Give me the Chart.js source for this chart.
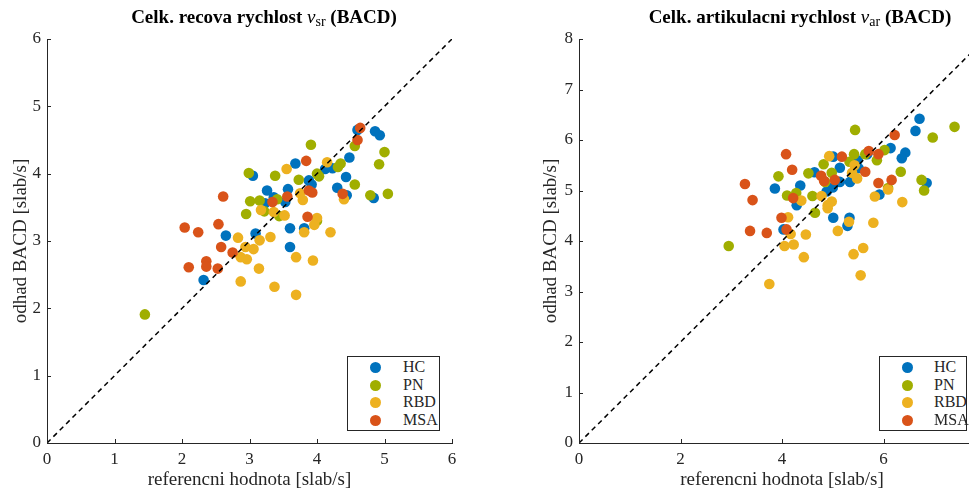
<!DOCTYPE html>
<html>
<head>
<meta charset="utf-8">
<script src="https://cdn.jsdelivr.net/npm/chart.js@4"></script>
<style>
  body { margin: 0; width: 969px; height: 488px; overflow: hidden; position: relative; background: #fff; font-family: "Liberation Serif", serif; color: #000; }
  .box { position: absolute; top: 0; height: 488px; }
  .title { position: absolute; top: 6px; font-weight: bold; font-size: 19px; white-space: nowrap; transform: translateX(-50%); }
  .title i { font-weight: normal; }
  .title sub { font-weight: normal; font-size: 14px; vertical-align: -3px; }
  .legend { position: absolute; border: 1px solid #262626; background: #fff; font-size: 16px; color: #262626; box-sizing: border-box; }
  .legend div { position: relative; height: 17.6px; line-height: 17.6px; }
  .legend span.dot { position: absolute; width: 11px; height: 11px; border-radius: 50%; top: 4px; }
  .legend span.lbl { position: absolute; }
</style>
</head>
<body>
<div class="box" style="left:0;width:470px"><canvas id="c1" width="470" height="488"></canvas></div>
<div class="box" style="left:500px;width:500px"><canvas id="c2" width="500" height="488"></canvas></div>
<div class="title" style="left:264px">Celk. recova rychlost <i>v</i><sub>sr</sub> (BACD)</div>
<div class="title" style="left:800px">Celk. artikulacni rychlost <i>v</i><sub>ar</sub> (BACD)</div>
<div class="legend" id="lg1" style="left:347px;top:356px;width:93px;height:75px"></div>
<div class="legend" id="lg2" style="left:879px;top:356px;width:88px;height:75px"></div>
<script>
const groups = ['HC', 'PN', 'RBD', 'MSA'];
const colors = ['#0072BD', '#A0AE00', '#EDB120', '#D95319'];

// celkova recova rychlost: [referencni, odhad]
const srHC = [[3.05,3.97],[3.26,3.75],[3.36,3.65],[3.23,3.56],[3.53,3.58],[3.57,3.77],[3.68,4.15],[3.88,3.90],[3.92,3.84],[4.12,4.07],[4.23,4.08],[4.48,4.24],[4.43,3.95],[4.30,3.79],[4.44,3.68],[4.60,4.65],[4.86,4.63],[4.93,4.57],[4.84,3.64],[3.60,3.19],[3.81,3.19],[3.60,2.91],[3.09,3.11],[2.65,3.08],[2.32,2.42]];
const srPN = [[2.99,4.01],[3.38,3.97],[3.91,4.43],[3.73,3.91],[4.00,4.00],[4.03,3.96],[4.31,4.10],[4.35,4.15],[4.56,4.41],[5.00,4.32],[4.92,4.14],[4.56,3.84],[4.79,3.68],[5.05,3.70],[3.01,3.59],[3.15,3.60],[3.22,3.44],[3.41,3.62],[3.44,3.37],[2.95,3.40],[4.00,3.30],[1.45,1.91]];
const srRBD = [[3.55,4.07],[4.15,4.17],[3.75,3.71],[3.79,3.61],[3.17,3.46],[3.36,3.43],[3.52,3.38],[4.00,3.34],[3.96,3.24],[4.20,3.13],[3.81,3.13],[4.40,3.62],[2.83,3.05],[2.94,2.91],[3.06,2.88],[3.15,3.01],[3.31,3.06],[2.87,2.76],[2.96,2.73],[3.14,2.59],[2.87,2.40],[3.37,2.32],[3.69,2.76],[3.94,2.71],[3.69,2.20]];
const srMSA = [[4.64,4.68],[4.60,4.50],[3.84,4.19],[3.88,3.75],[3.93,3.72],[3.56,3.66],[3.34,3.58],[4.38,3.70],[3.86,3.36],[2.61,3.66],[2.04,3.20],[2.24,3.13],[2.54,3.25],[2.58,2.91],[2.75,2.83],[2.36,2.70],[2.36,2.62],[2.10,2.61],[2.53,2.59]];

// celkova artikulacni rychlost: [referencni, odhad]
const arHC = [[6.71,6.42],[6.63,6.18],[6.14,5.84],[6.43,5.75],[6.36,5.64],[6.85,5.15],[5.92,4.92],[5.68,5.72],[5.49,5.60],[5.51,5.44],[5.34,5.17],[5.14,5.45],[5.14,5.17],[5.01,5.67],[5.00,5.06],[4.88,4.98],[4.64,5.36],[4.36,5.10],[4.29,4.71],[3.86,5.04],[4.03,4.23],[5.01,4.46],[5.33,4.46],[5.29,4.30]];
const arPN = [[5.44,6.20],[7.40,6.26],[6.97,6.05],[6.34,5.37],[6.75,5.21],[6.80,5.00],[6.09,5.05],[6.02,5.80],[5.87,5.60],[5.64,5.72],[5.42,5.72],[5.33,5.57],[4.98,5.35],[4.82,5.52],[4.52,5.34],[4.85,5.17],[4.60,4.89],[4.28,4.95],[4.10,4.90],[3.93,5.28],[4.65,4.56],[2.95,3.90]];
const arRBD = [[4.93,5.68],[5.43,5.50],[5.38,5.35],[5.48,5.24],[4.78,4.89],[4.98,4.78],[4.90,4.71],[4.90,4.65],[4.38,4.80],[4.12,4.47],[4.17,4.14],[4.47,4.13],[4.05,3.90],[4.23,3.93],[4.43,3.68],[5.10,4.20],[5.32,4.38],[5.41,3.74],[5.60,3.86],[5.55,3.32],[5.80,4.36],[5.83,4.88],[6.09,5.02],[6.37,4.77],[3.75,3.15]];
const arMSA = [[6.22,6.10],[5.71,5.78],[5.90,5.72],[5.64,5.37],[5.90,5.15],[6.16,5.21],[5.18,5.67],[5.04,5.21],[4.77,5.29],[4.83,5.19],[4.08,5.72],[4.20,5.41],[4.22,4.85],[3.27,5.13],[3.42,4.81],[3.99,4.46],[4.09,4.23],[3.37,4.20],[3.70,4.16]];

const srTicksX = [0, 1, 2, 3, 4, 5, 6];
const srTicksY = [0, 1, 2, 3, 4, 5, 6];
const arTicksX = [0, 2, 4, 6, 8];
const arTicksY = [0, 1, 2, 3, 4, 5, 6, 7, 8];

const FONT = "'Liberation Serif', serif";
const AX = '#262626';

const innerTicks = {
  id: 'innerTicks',
  afterDatasetsDraw(chart) {
    const { ctx, chartArea } = chart;
    const xs = chart.scales.x, ys = chart.scales.y;
    ctx.save();
    ctx.strokeStyle = AX;
    ctx.lineWidth = 1;
    ctx.beginPath();
    xs.ticks.forEach(t => {
      const px = Math.round(xs.getPixelForValue(t.value)) + 0.5;
      ctx.moveTo(px, chartArea.bottom);
      ctx.lineTo(px, chartArea.bottom - 4);
    });
    ys.ticks.forEach(t => {
      const py = Math.round(ys.getPixelForValue(t.value)) + 0.5;
      ctx.moveTo(chartArea.left, py);
      ctx.lineTo(chartArea.left + 4, py);
    });
    ctx.stroke();
    ctx.restore();
  }
};

function makeChart(id, sets, tx, ty, yWidth, yTitlePad, rightPad) {
  const xmax = tx[tx.length - 1], ymax = ty[ty.length - 1];
  const lim = Math.min(xmax, ymax);
  const datasets = sets.map((s, i) => ({
    type: 'scatter',
    label: groups[i],
    data: s.map(p => ({ x: p[0], y: p[1] })),
    backgroundColor: colors[i],
    borderWidth: 0,
    pointRadius: 5.3,
    order: 10 - i
  }));
  datasets.push({
    type: 'line',
    data: [{ x: 0, y: 0 }, { x: lim, y: lim }],
    borderColor: '#000',
    borderWidth: 1.5,
    borderDash: [5, 4],
    pointRadius: 0,
    order: 0
  });
  return new Chart(document.getElementById(id), {
    data: { datasets },
    plugins: [innerTicks],
    options: {
      responsive: false,
      animation: false,
      devicePixelRatio: 1,
      layout: { padding: { top: 39, right: rightPad, left: 0, bottom: 0 } },
      plugins: { legend: { display: false }, tooltip: { enabled: false } },
      scales: {
        x: {
          type: 'linear', min: 0, max: xmax,
          afterBuildTicks: s => { s.ticks = tx.map(v => ({ value: v })); },
          afterFit: s => { s.height = 45; },
          ticks: { color: AX, font: { family: FONT, size: 17 }, padding: 6, maxRotation: 0 },
          grid: { display: false, drawTicks: false },
          border: { display: true, color: AX, width: 1 },
          title: { display: true, text: 'referencni hodnota [slab/s]', color: AX, font: { family: FONT, size: 19 }, padding: { top: 0, bottom: -3.5 } }
        },
        y: {
          type: 'linear', min: 0, max: ymax,
          afterBuildTicks: s => { s.ticks = ty.map(v => ({ value: v })); },
          afterFit: s => { s.width = yWidth; },
          ticks: { color: AX, font: { family: FONT, size: 17 }, padding: 6 },
          grid: { display: false, drawTicks: false },
          border: { display: true, color: AX, width: 1 },
          title: { display: true, text: 'odhad BACD [slab/s]', color: AX, font: { family: FONT, size: 19 }, padding: { top: yTitlePad, bottom: 0 } }
        }
      }
    }
  });
}

makeChart('c1', [srHC, srPN, srRBD, srMSA], srTicksX, srTicksY, 47, 9.5, 18);
makeChart('c2', [arHC, arPN, arRBD, arMSA], arTicksX, arTicksY, 79, 39.5, 15);

function legend(id, dotX, lblX) {
  const el = document.getElementById(id);
  el.style.paddingTop = '1px';
  groups.forEach((g, i) => {
    const row = document.createElement('div');
    row.innerHTML = `<span class="dot" style="left:${dotX}px;background:${colors[i]}"></span><span class="lbl" style="left:${lblX}px">${g}</span>`;
    el.appendChild(row);
  });
}
legend('lg1', 22, 55);
legend('lg2', 22, 54);
</script>
</body>
</html>
